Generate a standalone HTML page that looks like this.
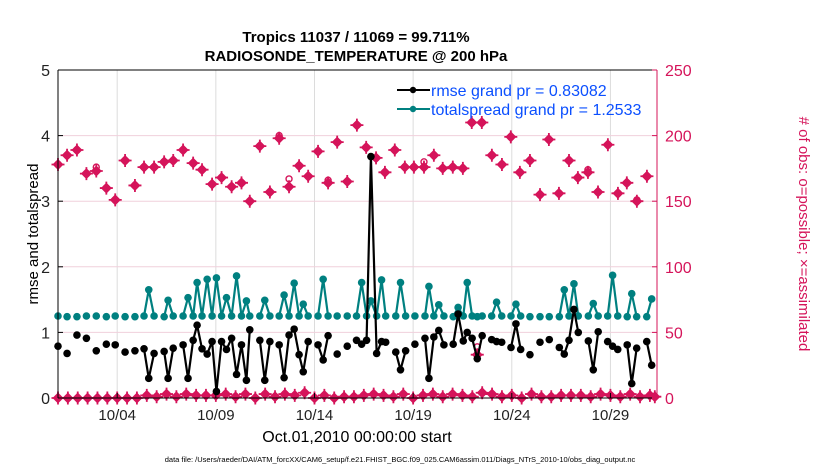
<!DOCTYPE html>
<html><head><meta charset="utf-8"><style>
body{margin:0;background:#fff;}
svg{display:block;font-family:"Liberation Sans",sans-serif;}
</style></head><body>
<svg id="chart" width="830" height="470" viewBox="0 0 830 470">
<text x="356" y="42" font-size="15" font-weight="bold" text-anchor="middle">Tropics 11037 / 11069 = 99.711%</text>
<text x="356" y="61" font-size="15" font-weight="bold" text-anchor="middle">RADIOSONDE_TEMPERATURE @ 200 hPa</text>
<g id="grid"></g>
<g id="marks"></g>
<g id="axes"></g>
<g>
 <g>
  <line x1="397" y1="90" x2="430" y2="90" stroke="#000" stroke-width="2"/>
  <circle cx="413" cy="90" r="3.2" fill="#000"/>
  <text x="431" y="96" font-size="16" fill="#0b4fff">rmse grand pr = 0.83082</text>
 </g>
 <g>
  <line x1="397" y1="109" x2="430" y2="109" stroke="#008080" stroke-width="2"/>
  <circle cx="413" cy="109" r="3.2" fill="#008080"/>
  <text x="431" y="115" font-size="16" fill="#0b4fff">totalspread grand pr = 1.2533</text>
 </g>
</g>
<text transform="translate(38,234) rotate(-90)" font-size="15" text-anchor="middle">rmse and totalspread</text>
<text transform="translate(799,234) rotate(90)" font-size="15" fill="#d5145a" text-anchor="middle"># of obs: o=possible; ×=assimilated</text>
<text x="357" y="442" font-size="16" text-anchor="middle">Oct.01,2010 00:00:00 start</text>
<text x="400" y="462" font-size="7.5" text-anchor="middle">data file: /Users/raeder/DAI/ATM_forcXX/CAM6_setup/f.e21.FHIST_BGC.f09_025.CAM6assim.011/Diags_NTrS_2010-10/obs_diag_output.nc</text>
</svg>
<script>
// ---- data ----
const xTicksDays = [3, 8, 13, 18, 23, 28];
const xTickLabels = ["10/04", "10/09", "10/14", "10/19", "10/24", "10/29"];
const leftTicks = [0, 1, 2, 3, 4, 5];
const rightTicks = [0, 50, 100, 150, 200, 250];
const statDays = [0,0.46,0.96,1.44,1.94,2.45,2.9,3.4,3.9,4.36,4.6,4.87,5.38,5.58,5.84,6.34,6.59,6.85,7.05,7.3,7.56,7.81,8.03,8.29,8.54,8.8,9.05,9.3,9.55,9.72,10.23,10.48,10.74,11.21,11.46,11.71,11.97,12.22,12.43,12.68,13.18,13.44,13.69,14.15,14.66,15.13,15.39,15.64,15.86,16.15,16.4,16.61,17.12,17.36,17.62,18.09,18.6,18.8,19.05,19.3,19.56,20.03,20.28,20.54,20.74,20.99,21.25,21.5,21.98,22.23,22.49,22.96,23.21,23.45,23.92,24.43,24.9,25.41,25.66,25.9,26.15,26.37,26.88,27.13,27.38,27.86,28.11,28.37,28.85,29.08,29.33,29.84,30.09];
const rmse = [0.79,0.68,0.96,0.91,0.72,0.82,0.81,0.70,0.72,0.75,0.30,0.68,0.71,0.30,0.76,0.81,0.30,0.88,1.11,0.75,0.67,0.86,0.10,0.86,0.74,0.91,0.36,0.81,0.27,1.04,0.88,0.27,0.86,0.81,0.31,0.96,1.05,0.66,0.40,0.86,0.81,0.58,0.95,0.67,0.79,0.88,0.82,0.88,3.68,0.68,0.86,0.85,0.70,0.43,0.72,0.82,0.91,0.30,0.93,1.03,0.81,0.82,1.28,0.87,1.00,0.91,0.60,0.95,0.89,0.86,0.85,0.77,1.13,0.74,0.66,0.85,0.89,0.77,0.67,0.88,1.35,1.00,0.87,0.43,1.01,0.86,0.79,0.74,0.81,0.22,0.76,0.86,0.50];
const totalspread = [1.25,1.24,1.24,1.25,1.25,1.24,1.25,1.24,1.24,1.25,1.65,1.25,1.24,1.49,1.25,1.25,1.53,1.25,1.76,1.25,1.81,1.25,1.83,1.25,1.53,1.25,1.86,1.25,1.48,1.25,1.25,1.49,1.25,1.25,1.57,1.25,1.75,1.25,1.43,1.25,1.25,1.81,1.25,1.25,1.25,1.25,1.76,1.25,1.48,1.25,1.80,1.25,1.25,1.76,1.25,1.25,1.25,1.70,1.25,1.42,1.25,1.24,1.38,1.25,1.76,1.25,1.24,1.25,1.25,1.46,1.25,1.25,1.43,1.25,1.24,1.24,1.24,1.24,1.65,1.25,1.74,1.25,1.25,1.44,1.25,1.25,1.87,1.25,1.24,1.59,1.24,1.24,1.51];
const obsDays = [0,0.46,0.96,1.44,1.94,2.45,2.9,3.4,3.9,4.36,4.87,5.38,5.84,6.34,6.85,7.3,7.81,8.29,8.8,9.3,9.72,10.23,10.74,11.21,11.71,12.22,12.68,13.18,13.69,14.15,14.66,15.15,15.62,16.12,16.57,17.07,17.58,18.04,18.55,19.05,19.5,20.01,20.52,20.97,21.25,21.48,21.99,22.5,22.95,23.41,23.92,24.43,24.88,25.39,25.9,26.35,26.86,27.37,27.87,28.38,28.83,29.34,29.85];
const obsPossible = [178,185,189,171,176,160,151,181,162,176,176,180,181,189,179,174,163,168,161,164,150,192,157,200,167,177,169,188,166,195,165,208,191,183,172,189,176,176,180,185,175,176,175,210,39,210,185,178,199,172,181,155,197,156,181,168,174,157,193,156,164,151,169];
const obsAssim = [178,185,189,171,173,160,151,181,162,176,176,180,181,189,179,174,163,168,161,164,150,192,157,198,161,177,169,188,164,195,165,208,191,183,172,189,176,176,176,185,175,176,175,210,33,210,185,178,199,172,181,155,197,156,181,168,172,157,193,156,164,150,169];
const rejDays = [0,0.5,1,1.5,2,2.5,3,3.5,4,4.5,5,5.5,6,6.5,7,7.5,8,8.5,9,9.5,10,10.5,11,11.5,12,12.5,13,13.5,14,14.5,15,15.5,16,16.5,17,17.5,18,18.5,19,19.5,20,20.5,21,21.5,22,22.5,23,23.5,24,24.5,25,25.5,26,26.5,27,27.5,28,28.5,29,29.5,30,30.25];
const rejCounts = [0,0,0,0,0,0,0,0,0,2,1,3,1,3,2,2,2,3,1,3,0,3,1,3,2,4,0,2,0,1,1,2,3,2,1,3,0,2,3,1,3,2,1,4,3,1,2,0,3,1,1,2,2,2,1,3,2,1,3,1,2,1];
// ---- scales ----
const X0=58, X1=657, Y0=398, Y1=70, DAYMAX=30.36;
function xs(d){return X0+(d/DAYMAX)*(X1-X0);}
function yl(v){return Y0-(v/5)*(Y0-Y1);}
function yr(n){return Y0-(n/250)*(Y0-Y1);}
const NS='http://www.w3.org/2000/svg';
function mk(tag,attrs,parent){const e=document.createElementNS(NS,tag);for(const k in attrs)e.setAttribute(k,attrs[k]);parent.appendChild(e);return e;}
const grid=document.getElementById('grid'), marks=document.getElementById('marks'), axes=document.getElementById('axes');
const PINK='#d5145a';
xTicksDays.forEach(d=>{const l=mk('line',{x1:xs(d),x2:xs(d),y1:Y1,y2:Y0,stroke:'#dcdcdc','stroke-width':1},grid);

});
rightTicks.slice(1,-1).forEach(n=>{const l=mk('line',{x1:X0,x2:X1,y1:yr(n),y2:yr(n),stroke:'#f0d0dc','stroke-width':1},grid);

});
function drawSeries(days,vals,color,name){
  let seg=[];
  const segs=[];
  for(let i=0;i<days.length;i++){
    if(i>0 && days[i]-days[i-1]>0.3){segs.push(seg);seg=[];}
    seg.push([xs(days[i]),yl(vals[i])]);
  }
  segs.push(seg);
  segs.forEach(s=>{if(s.length>1){const p=mk('polyline',{points:s.map(q=>q.join(',')).join(' '),fill:'none',stroke:color,'stroke-width':2.2,'stroke-linejoin':'round'},marks);
  
  }});
  for(let i=0;i<days.length;i++){const c=mk('circle',{cx:xs(days[i]),cy:yl(vals[i]),r:3.8,fill:color},marks);
  
  }
}
function star(x,y,name){
  const g=mk('g',{},marks);
  
  
  mk('path',{d:`M${x-5.5} ${y}L${x} ${y-5.5}L${x+5.5} ${y}L${x} ${y+5.5}Z`,fill:PINK},g);
  mk('circle',{cx:x,cy:y,r:3.8,fill:PINK},g);
  mk('path',{d:`M${x-6.5} ${y}H${x+6.5}M${x} ${y-6.5}V${y+6.5}`,stroke:PINK,'stroke-width':1.8},g);
}
for(let i=0;i<obsDays.length;i++){
  const c=mk('circle',{cx:xs(obsDays[i]),cy:yr(obsPossible[i]),r:3,fill:'none',stroke:PINK,'stroke-width':1.4},marks);
  
  
  star(xs(obsDays[i]),yr(obsAssim[i]),'obs-assimilated-marker');
}
for(let i=0;i<rejDays.length;i++){star(xs(rejDays[i]),yr(rejCounts[i]),'obs-low-count-marker');}
drawSeries(statDays,totalspread,'#008080','totalspread');
drawSeries(statDays,rmse,'#000000','rmse');
const frame=[['left',X0,Y1,X0,Y0,'#000'],['bottom',X0,Y0,X1,Y0,'#000'],['top',X0,Y1,X1,Y1,'#000'],['right',X1,Y1,X1,Y0,PINK]];
frame.forEach(f=>{const l=mk('line',{x1:f[1],y1:f[2],x2:f[3],y2:f[4],stroke:f[5],'stroke-width':1},axes);

});
leftTicks.forEach(v=>{mk('line',{x1:X0,x2:X0+5,y1:yl(v),y2:yl(v),stroke:'#000'},axes);
const t=mk('text',{x:X0-8,y:yl(v)+6,'font-size':16,'text-anchor':'end',fill:'#222'},axes);t.textContent=v;

});
rightTicks.forEach(n=>{mk('line',{x1:X1-5,x2:X1,y1:yr(n),y2:yr(n),stroke:PINK},axes);
const t=mk('text',{x:X1+8,y:yr(n)+6,'font-size':16,fill:PINK},axes);t.textContent=n;

});
xTicksDays.forEach((d,i)=>{mk('line',{x1:xs(d),x2:xs(d),y1:Y0,y2:Y0-5,stroke:'#000'},axes);
const t=mk('text',{x:xs(d),y:Y0+22,'font-size':15,'text-anchor':'middle',fill:'#222'},axes);t.textContent=xTickLabels[i];

});
</script>
</body></html>
